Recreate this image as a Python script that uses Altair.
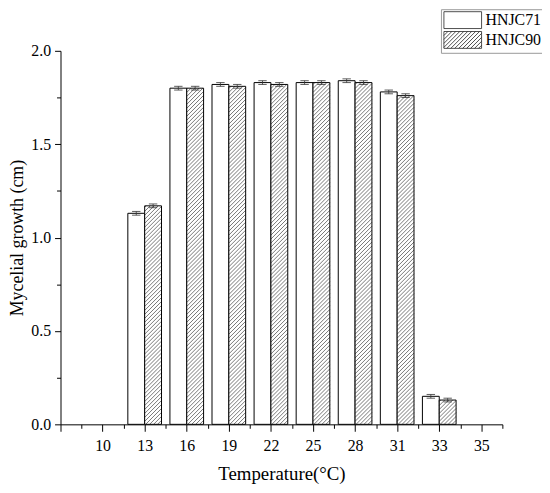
import json
import altair as alt
import pandas as pd

# ---- data ----
temps = ["10", "13", "16", "19", "22", "25", "28", "31", "33", "35"]
hnjc71 = [0.0, 1.13, 1.80, 1.82, 1.83, 1.83, 1.84, 1.78, 0.15, 0.0]
hnjc90 = [0.0, 1.17, 1.80, 1.81, 1.82, 1.83, 1.83, 1.76, 0.13, 0.0]
err71 = [0.0, 0.01, 0.01, 0.01, 0.01, 0.01, 0.01, 0.01, 0.01, 0.0]
err90 = [0.0, 0.01, 0.01, 0.01, 0.01, 0.01, 0.01, 0.01, 0.01, 0.0]
strains = ["HNJC71", "HNJC90"]

FONT = "Liberation Serif"
W, H = 446, 377
BAR = 0.4          # bar width in category units
CAP = 0.1          # half cap width in category units
X_DOMAIN = [-1, 9.5]
Y_DOMAIN = [0, 2]

rows = []
for i, t in enumerate(temps):
    rows.append(dict(idx=i, temp=t, strain=strains[0], value=hnjc71[i], err=err71[i], x0=i - BAR, x1=i))
    rows.append(dict(idx=i, temp=t, strain=strains[1], value=hnjc90[i], err=err90[i], x0=i, x1=i + BAR))
df = pd.DataFrame(rows)
df["base"] = 0.0
df["xc"] = (df.x0 + df.x1) / 2
df["lo"] = df.value - df.err
df["hi"] = df.value + df.err
df["c0"] = df.xc - CAP
df["c1"] = df.xc + CAP
bars_df = df[df.value > 0].reset_index(drop=True)

# ---- hatch lines for the HNJC90 bars (45 degree "/" pattern) ----
px_x = W / (X_DOMAIN[1] - X_DOMAIN[0])
px_y = H / (Y_DOMAIN[1] - Y_DOMAIN[0])
STEP = 4.0
hatch = []
for _, r in bars_df[bars_df.strain == strains[1]].iterrows():
    bw = (r.x1 - r.x0) * px_x
    bh = r.value * px_y
    c = -bw
    while c < bh:
        xs = max(0.0, -c)
        xe = min(bw, bh - c)
        if xe > xs:
            hatch.append(dict(hx0=r.x0 + xs / px_x, hy0=(xs + c) / px_y,
                              hx1=r.x0 + xe / px_x, hy1=(xe + c) / px_y))
        c += STEP
hatch_df = pd.DataFrame(hatch)

# ---- legend symbol paths ----
SX = 2.235
rect_path = f"M{-SX},-1H{SX}V1H{-SX}Z"
hp = [rect_path]
x0 = -SX - 2
while x0 < SX:
    ts = max(0.0, -SX - x0)
    te = min(2.0, SX - x0)
    if te > ts:
        hp.append(f"M{x0 + ts:.3f},{1 - ts:.3f}L{x0 + te:.3f},{1 - te:.3f}")
    x0 += 0.47
hatch_path = "".join(hp)

xscale = alt.Scale(domain=X_DOMAIN, nice=False, zero=False)
yscale = alt.Scale(domain=Y_DOMAIN, nice=False, zero=False)

label_expr = "datum.value < 0 ? '' : " + json.dumps(temps).replace('"', "'") + "[datum.value]"

x_major = alt.Axis(orient="bottom", values=list(range(-1, 10)), labelExpr=label_expr,
                   title="Temperature(°C)", tickSize=7, labelPadding=6, grid=False,
                   titleY=50, titleBaseline="middle", titleFontSize=19)
y_major = alt.Axis(orient="left", values=[0, 0.5, 1.0, 1.5, 2.0], format=".1f",
                   title="Mycelial growth (cm)", tickSize=6, labelPadding=4, grid=False,
                   titleX=-38, titleBaseline="alphabetic", titleFontSize=18)
x_minor = alt.Axis(orient="bottom", values=[i + 0.5 for i in range(-1, 10)], labels=False,
                   domain=False, tickSize=4, title=None, grid=False)
y_minor = alt.Axis(orient="left", values=[0.25, 0.75, 1.25, 1.75], labels=False,
                   domain=False, tickSize=4, title=None, grid=False)

bar_data = alt.Data(values=bars_df.to_dict("records"))

white = alt.Chart(bar_data).transform_filter(alt.datum.strain == strains[0]).mark_bar(
    fill="white", stroke="black", strokeWidth=1).encode(
    x=alt.X("x0:Q", scale=xscale, axis=x_major),
    x2="x1:Q",
    y=alt.Y("value:Q", scale=yscale, axis=y_major),
    y2="base:Q",
)

hatched_fill = alt.Chart(bar_data).transform_filter(alt.datum.strain == strains[1]).mark_bar(
    fill="white", strokeWidth=0).encode(
    x=alt.X("x0:Q", scale=xscale, axis=None), x2="x1:Q",
    y=alt.Y("value:Q", scale=yscale, axis=None), y2="base:Q",
)

hatch_lines = alt.Chart(alt.Data(values=hatch_df.to_dict("records"))).mark_rule(
    color="#555555", strokeWidth=0.8).encode(
    x=alt.X("hx0:Q", scale=xscale, axis=None), x2="hx1:Q",
    y=alt.Y("hy0:Q", scale=yscale, axis=None), y2="hy1:Q",
)

hatched_outline = alt.Chart(bar_data).transform_filter(alt.datum.strain == strains[1]).mark_bar(
    fillOpacity=0, stroke="black", strokeWidth=1).encode(
    x=alt.X("x0:Q", scale=xscale, axis=None), x2="x1:Q",
    y=alt.Y("value:Q", scale=yscale, axis=None), y2="base:Q",
)

err_v = alt.Chart(bar_data).mark_rule(color="#333333", strokeWidth=0.8).encode(
    x=alt.X("xc:Q", scale=xscale, axis=x_minor),
    y=alt.Y("lo:Q", scale=yscale, axis=y_minor), y2="hi:Q",
)
cap_hi = alt.Chart(bar_data).mark_rule(color="#333333", strokeWidth=0.8).encode(
    x=alt.X("c0:Q", scale=xscale, axis=None), x2="c1:Q",
    y=alt.Y("hi:Q", scale=yscale, axis=None),
)
cap_lo = alt.Chart(bar_data).mark_rule(color="#333333", strokeWidth=0.8).encode(
    x=alt.X("c0:Q", scale=xscale, axis=None), x2="c1:Q",
    y=alt.Y("lo:Q", scale=yscale, axis=None),
)

legend_layer = alt.Chart(alt.Data(values=[])).mark_point(filled=False, color="#222222").encode(
    shape=alt.Shape("strain:N", scale=alt.Scale(domain=strains, range=[rect_path, hatch_path]),
                    legend=alt.Legend(title=None, orient="none", legendX=384, legendY=-42,
                                      strokeColor="#999999", fillColor="white", padding=2,
                                      symbolSize=289, symbolOffset=11, symbolStrokeColor="#222222",
                                      symbolFillColor="white", symbolStrokeWidth=0.8,
                                      symbolOpacity=1, labelFont=FONT, labelFontSize=16,
                                      labelColor="black", labelOffset=14, rowPadding=-3)),
)

chart = alt.layer(white, hatched_fill, hatch_lines, hatched_outline, err_v, cap_hi, cap_lo,
                  legend_layer).resolve_axis(x="independent", y="independent").properties(
    width=W, height=H,
    autosize=alt.AutoSizeParams(type="none"),
    padding={"left": 53, "top": 41, "right": 40, "bottom": 59},
).configure_view(stroke=None).configure_axis(
    labelFont=FONT, titleFont=FONT, labelFontSize=16,
    titleFontWeight="normal", labelColor="black", titleColor="black",
    domainColor="black", tickColor="black", domainWidth=1, tickWidth=1,
)

chart.save("out.html", embed_options={"renderer": "svg", "actions": False})
